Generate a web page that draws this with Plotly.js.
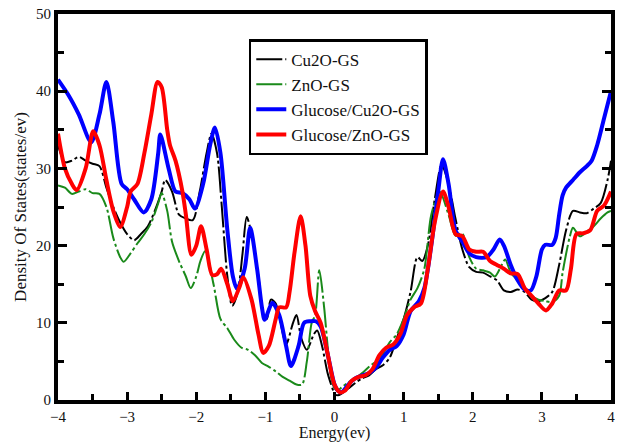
<!DOCTYPE html>
<html>
<head>
<meta charset="utf-8">
<script src="https://cdn.plot.ly/plotly-3.0.1.min.js"></script>
<style>html,body{margin:0;padding:0;background:#fff;}#chart{width:620px;height:442px;}</style>
</head>
<body>
<div id="chart"></div>
<script>
// Cu2O-GS (black)
const cuX = [-4,-3.9,-3.8,-3.7,-3.6,-3.5,-3.4,-3.3,-3.2,-3.1,-3.0,-2.9,-2.8,-2.7,-2.6,-2.5,-2.45,-2.35,-2.25,-2.15,-2.05,-1.95,-1.85,-1.78,-1.7,-1.63,-1.55,-1.48,-1.4,-1.33,-1.27,-1.2,-1.1,-1.03,-0.98,-0.92,-0.85,-0.78,-0.7,-0.6,-0.55,-0.48,-0.4,-0.3,-0.25,-0.18,-0.1,-0.03,0.0,0.05,0.1,0.2,0.3,0.4,0.5,0.6,0.7,0.8,0.9,1.0,1.1,1.2,1.27,1.35,1.45,1.55,1.65,1.75,1.85,1.95,2.05,2.15,2.25,2.35,2.45,2.55,2.65,2.75,2.85,2.95,3.05,3.15,3.25,3.35,3.45,3.55,3.65,3.75,3.85,3.95,4.0];
const cuY = [33,30.8,31,31.5,31,30.6,30.3,27.5,25,23,21.5,20.7,21.5,22.5,24.5,27,28.5,27,24,23.5,23.3,27,32,34.5,32,25,16,12.2,14,19,23.7,21.5,16,11,10.5,13,12.5,10,7.2,10,11,8,6.5,8.5,9,7,3.5,1.5,0.8,0.6,0.8,1.5,2.2,2.8,3.2,4,4.5,5.5,8,10.5,14,18.5,18,20,26,30.5,28,23.5,19.5,17.2,16.6,16.5,16,15.5,14.2,14,14.3,14,13,12.8,13.2,14,17.5,22,24.5,24.3,24.2,24.8,25.5,28.5,31];

// ZnO-GS (green)
const znX = [-4,-3.9,-3.8,-3.7,-3.6,-3.5,-3.4,-3.3,-3.2,-3.1,-3.05,-2.95,-2.85,-2.75,-2.65,-2.55,-2.5,-2.42,-2.35,-2.25,-2.15,-2.08,-2.0,-1.94,-1.87,-1.75,-1.65,-1.55,-1.45,-1.35,-1.25,-1.15,-1.05,-0.95,-0.85,-0.75,-0.65,-0.55,-0.47,-0.4,-0.33,-0.28,-0.22,-0.15,-0.1,-0.05,0.0,0.05,0.1,0.2,0.3,0.4,0.5,0.6,0.7,0.8,0.9,1.0,1.1,1.2,1.3,1.4,1.52,1.65,1.75,1.85,1.95,2.05,2.15,2.25,2.32,2.42,2.47,2.55,2.65,2.75,2.85,2.95,3.05,3.15,3.25,3.3,3.4,3.45,3.55,3.65,3.75,3.85,3.95,4.0];
const znY = [27.8,27.5,26.7,27,27.3,26.8,26.7,25,21,18.5,17.9,19,20.3,21.5,23,25.5,26.8,24.5,20.5,18,16,14.5,16,18,19.3,15,10.5,9.3,7.8,6.8,6.5,5.8,4.8,4.3,3.7,3,2.5,2,2,5,10,11,16.8,12,7,3,1.5,1.3,1.6,2.3,2.8,3.5,4.3,5,6,7.5,8.5,10.5,13,14.5,17,24,27,24,21.3,21.5,18.5,17,16.8,16.5,16,17.5,18.2,16.5,15.5,14.5,13.5,13,12.8,12.7,13.5,16.5,21,22.3,21.2,21.8,22.5,23.5,24.3,24.5];

// Glucose/Cu2O-GS (blue)
const gcX = [-4,-3.85,-3.7,-3.52,-3.4,-3.3,-3.2,-3.08,-3.0,-2.9,-2.76,-2.65,-2.55,-2.52,-2.4,-2.3,-2.2,-2.1,-2.02,-1.9,-1.8,-1.73,-1.65,-1.55,-1.47,-1.41,-1.3,-1.22,-1.12,-1.05,-1.01,-0.9,-0.8,-0.7,-0.63,-0.52,-0.44,-0.35,-0.27,-0.2,-0.1,0.0,0.05,0.1,0.2,0.3,0.5,0.6,0.7,0.8,0.9,1.0,1.1,1.22,1.3,1.4,1.5,1.57,1.65,1.75,1.85,1.95,2.05,2.2,2.3,2.39,2.45,2.55,2.65,2.75,2.84,2.92,3.0,3.05,3.15,3.2,3.25,3.3,3.35,3.45,3.55,3.65,3.72,3.8,3.9,4.0];
const gcY = [41.5,39.5,37,33.4,37,41.2,36,28,27.3,26,24.3,26,32,34.4,30,27,26.8,26,24.8,28,33,35.3,32,22,16,14.4,17,22.3,17,12,10.4,12.6,11,7,4.4,7,10,10.2,10.2,9.5,6,2,1.2,1.0,2,2.8,3.5,4.2,5.5,6.5,7,8.5,11.5,12.8,14.5,20,27,31.2,28,22,20.5,19,18.5,18.5,19.5,20.8,20,17.5,15.5,14.3,14.2,16,19.5,20.1,20.1,21,24,26.5,27.5,28.5,29.5,30.3,31,33,36.5,40];

// Glucose/ZnO-GS (red)
const gzX = [-4,-3.9,-3.8,-3.73,-3.6,-3.49,-3.4,-3.3,-3.2,-3.1,-3.0,-2.95,-2.85,-2.75,-2.65,-2.56,-2.5,-2.42,-2.38,-2.3,-2.2,-2.15,-2.07,-2.0,-1.93,-1.85,-1.77,-1.7,-1.64,-1.55,-1.47,-1.38,-1.32,-1.2,-1.1,-1.03,-0.95,-0.85,-0.8,-0.7,-0.65,-0.58,-0.49,-0.42,-0.35,-0.28,-0.2,-0.1,0.0,0.08,0.15,0.25,0.35,0.45,0.55,0.65,0.75,0.85,0.95,1.05,1.15,1.25,1.35,1.45,1.57,1.65,1.75,1.85,1.95,2.05,2.15,2.25,2.35,2.45,2.55,2.65,2.75,2.85,2.95,3.06,3.15,3.25,3.35,3.42,3.5,3.6,3.7,3.8,3.9,4.0];
const gzY = [34.5,30,28,27.2,30,34.8,33,28.5,24.5,22.4,25,27,28,32,37,41.2,40.5,35,33,31,27,24,18.8,20,22.5,19.5,16.2,16.3,17,15,12.8,14.5,15.9,13,8.5,6.1,7,10.5,12,12,14,19,23.8,20,13.5,11.5,10,6,2,1.0,1.2,2.5,3,3.2,4,5.8,6.8,7.2,8.5,11,12,12.5,17,23,27,25,21.5,21.2,19.5,19.2,19.2,18,17.5,17,16.4,16.3,14.5,13.5,12.5,11.6,12.5,14.2,14.2,17,21.5,21.6,22,24.5,25.2,27];

const names = ['Cu2O-GS','ZnO-GS','Glucose/Cu2O-GS','Glucose/ZnO-GS'];
const colors = ['#000000','#1a8a1a','#0000ff','#ff0000'];

const traces = [
  {x: cuX, y: cuY, name: names[0], mode: 'lines', line: {color: colors[0], width: 2, dash: '26px,3px,3px,3px', shape: 'spline', smoothing: 0.8}},
  {x: znX, y: znY, name: names[1], mode: 'lines', line: {color: colors[1], width: 2, dash: '26px,3px,3px,3px', shape: 'spline', smoothing: 0.8}},
  {x: gcX, y: gcY, name: names[2], mode: 'lines', line: {color: colors[2], width: 4, shape: 'spline', smoothing: 0.8}},
  {x: gzX, y: gzY, name: names[3], mode: 'lines', line: {color: colors[3], width: 4, shape: 'spline', smoothing: 0.8}}
];

const fontFam = 'Liberation Serif';
const layout = {
  width: 620, height: 442,
  margin: {l: 58, r: 9, t: 14, b: 42},
  paper_bgcolor: '#fff', plot_bgcolor: '#fff',
  font: {family: fontFam, color: '#111', size: 15},
  showlegend: true,
  legend: {
    x: 0.345, y: 0.935, xanchor: 'left', yanchor: 'top',
    bgcolor: '#fff', bordercolor: '#000', borderwidth: 2.5,
    font: {family: fontFam, size: 17, color: '#111'},
    tracegroupgap: 0
  },
  xaxis: {
    range: [-4, 4], dtick: 1, tick0: -4,
    showgrid: false, zeroline: false,
    showline: true, linewidth: 4, linecolor: '#000', mirror: true,
    ticks: 'inside', ticklen: 8, tickwidth: 3, tickcolor: '#000',
    minor: {dtick: 0.5, ticks: 'inside', ticklen: 6, tickwidth: 3, tickcolor: '#000'},
    tickfont: {family: fontFam, size: 15, color: '#111'},
    title: {text: 'Energy(ev)', font: {family: fontFam, size: 16, color: '#111'}, standoff: 8}
  },
  yaxis: {
    range: [0, 50], dtick: 10, tick0: 0,
    showgrid: false, zeroline: false,
    showline: true, linewidth: 4, linecolor: '#000', mirror: 'ticks',
    ticks: 'inside', ticklen: 9, tickwidth: 3, tickcolor: '#000',
    minor: {dtick: 5, ticks: 'inside', ticklen: 6, tickwidth: 3, tickcolor: '#000'},
    tickfont: {family: fontFam, size: 15, color: '#111'},
    title: {text: 'Density Of States(states/ev)', font: {family: fontFam, size: 17, color: '#111'}, standoff: 6}
  }
};

Plotly.newPlot('chart', traces, layout, {displayModeBar: false, staticPlot: true});
</script>
</body>
</html>
